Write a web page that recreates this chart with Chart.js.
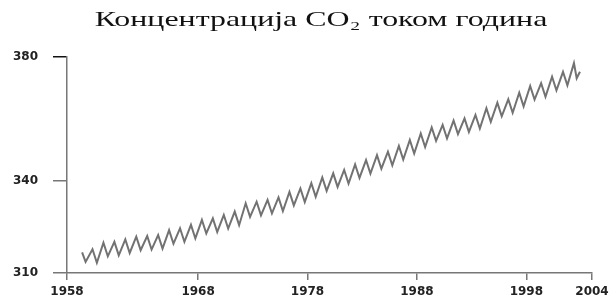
<!DOCTYPE html>
<html lang="sr">
<head>
  <meta charset="UTF-8" />
  <title>Концентрација CO2 током година</title>
  <script src="https://cdn.jsdelivr.net/npm/chart.js"></script>
  <style>
    html, body { margin: 0; padding: 0; background: #fff; }
    #wrap { width: 609px; height: 295px; }
  </style>
</head>
<body>
<div id="wrap"><canvas id="co2Chart"></canvas></div>

<script>
  // values (ppm)
  const years = [1958, 1959, 1960, 1961, 1962, 1963, 1964, 1965, 1966, 1967,
                 1968, 1969, 1970, 1971, 1972, 1973, 1974, 1975, 1976, 1977,
                 1978, 1979, 1980, 1981, 1982, 1983, 1984, 1985, 1986, 1987,
                 1988, 1989, 1990, 1991, 1992, 1993, 1994, 1995, 1996, 1997,
                 1998, 1999, 2000, 2001, 2002];
  const peaks = [317.7, 319.8, 320.1, 320.9, 321.8, 322.0, 322.3, 323.9, 324.5, 325.6,
                 327.2, 327.7, 328.8, 329.9, 332.6, 333.1, 333.7, 334.5, 336.3, 337.4,
                 339.1, 341.0, 342.3, 343.4, 345.2, 346.6, 348.2, 349.3, 351.2, 353.1,
                 355.2, 357.2, 358.0, 359.4, 360.1, 361.2, 363.4, 365.2, 366.3, 368.4,
                 370.6, 371.5, 373.6, 375.2, 378.0];
  const troughs = [313.3, 315.4, 315.7, 316.5, 317.4, 317.6, 317.9, 319.5, 320.1, 321.2,
                   322.8, 323.3, 324.4, 325.5, 328.2, 328.7, 329.3, 330.1, 331.9, 333.0,
                   334.7, 336.6, 337.9, 339.0, 340.8, 342.2, 343.8, 344.9, 346.8, 348.7,
                   350.8, 352.8, 353.6, 355.0, 355.7, 356.8, 359.0, 360.8, 361.9, 364.0,
                   366.2, 367.1, 369.2, 370.8, 373.1];
  // the series starts a little before the first peak and ends after the last trough
  const firstPoints = [[1957.4, 316.7], [1957.72, 313.6]];
  const lastPoint = [2002.9, 375.2];

  const tickYears = [1958, 1968, 1978, 1988, 1998, 2004];
  const yTicks = [310, 340, 380];

  const X_MIN = 1956.02, X_MAX = 2004;
  const PEAK_AT = 0.35, TROUGH_AT = 0.75;

  const points = firstPoints.map(p => ({ x: p[0], y: p[1] }));
  years.forEach((yr, i) => {
    points.push({ x: yr + PEAK_AT, y: peaks[i] });
    const tx = i === years.length - 1 ? yr + 0.6 : yr + TROUGH_AT;
    points.push({ x: tx, y: troughs[i] });
  });
  points.push({ x: lastPoint[0], y: lastPoint[1] });

  // the title in the reference is drawn wide; stretch it sideways around its centre
  const TITLE_CX = 321, TITLE_SX = 1.45;
  const stretchTitle = {
    id: 'stretchTitle',
    afterLayout(chart) {
      const tb = chart.titleBlock;
      if (!tb || tb._stretched) return;
      const orig = tb.draw.bind(tb);
      tb.draw = function () {
        const ctx = chart.ctx;
        const cx = (tb.left + tb.right) / 2;
        ctx.save();
        ctx.translate(TITLE_CX, 0);
        ctx.scale(TITLE_SX, 1);
        ctx.translate(-cx, 0);
        orig();
        ctx.restore();
      };
      tb._stretched = true;
    }
  };

  const tickFont = { family: '"DejaVu Sans", sans-serif', size: 12, weight: 'bold' };

  new Chart(document.getElementById('co2Chart').getContext('2d'), {
    type: 'line',
    data: {
      datasets: [{
        data: points,
        borderColor: '#727272',
        borderWidth: 2,
        pointRadius: 0,
        tension: 0,
        fill: false
      }]
    },
    options: {
      responsive: true,
      maintainAspectRatio: false,
      animation: false,
      layout: { padding: { left: 0, right: 17, top: 0, bottom: 0 } },
      plugins: {
        legend: { display: false },
        tooltip: { enabled: false },
        title: {
          display: true,
          text: 'Концентрација CO₂ током година',
          color: '#111',
          font: { family: '"Liberation Serif", serif', size: 22, weight: 'normal' },
          padding: { top: 7.4, bottom: 23.2 }
        }
      },
      scales: {
        x: {
          type: 'linear',
          min: X_MIN,
          max: X_MAX,
          afterBuildTicks: s => {
            s.ticks = tickYears.map((v, i) => ({ value: i === 0 ? X_MIN : v }));
          },
          afterFit: s => {
            s.height = 22;
            s.paddingLeft = 0;
            s.paddingRight = 0;
          },
          ticks: {
            color: '#222',
            font: tickFont,
            padding: 5,
            maxRotation: 0,
            autoSkip: false,
            callback: (v, i) => tickYears[i]
          },
          grid: { drawOnChartArea: false, drawTicks: true, tickLength: 7, color: '#777', lineWidth: 1.5 },
          border: { display: true, color: '#777', width: 1.5 }
        },
        y: {
          min: 310,
          max: 380,
          afterBuildTicks: s => {
            s.ticks = yTicks.map(v => ({ value: v }));
          },
          afterFit: s => {
            s.width = 67;
            s.paddingTop = 0;
            s.paddingBottom = 0;
          },
          ticks: {
            color: '#222',
            font: tickFont,
            padding: 15,
            callback: v => v
          },
          grid: {
            drawOnChartArea: false,
            drawTicks: true,
            tickLength: 14,
            color: ctx => ctx.tick && ctx.tick.value === 380 ? '#111' : '#777',
            lineWidth: 1.5
          },
          border: { display: true, color: '#777', width: 1.5 }
        }
      }
    },
    plugins: [stretchTitle]
  });
</script>
</body>
</html>
